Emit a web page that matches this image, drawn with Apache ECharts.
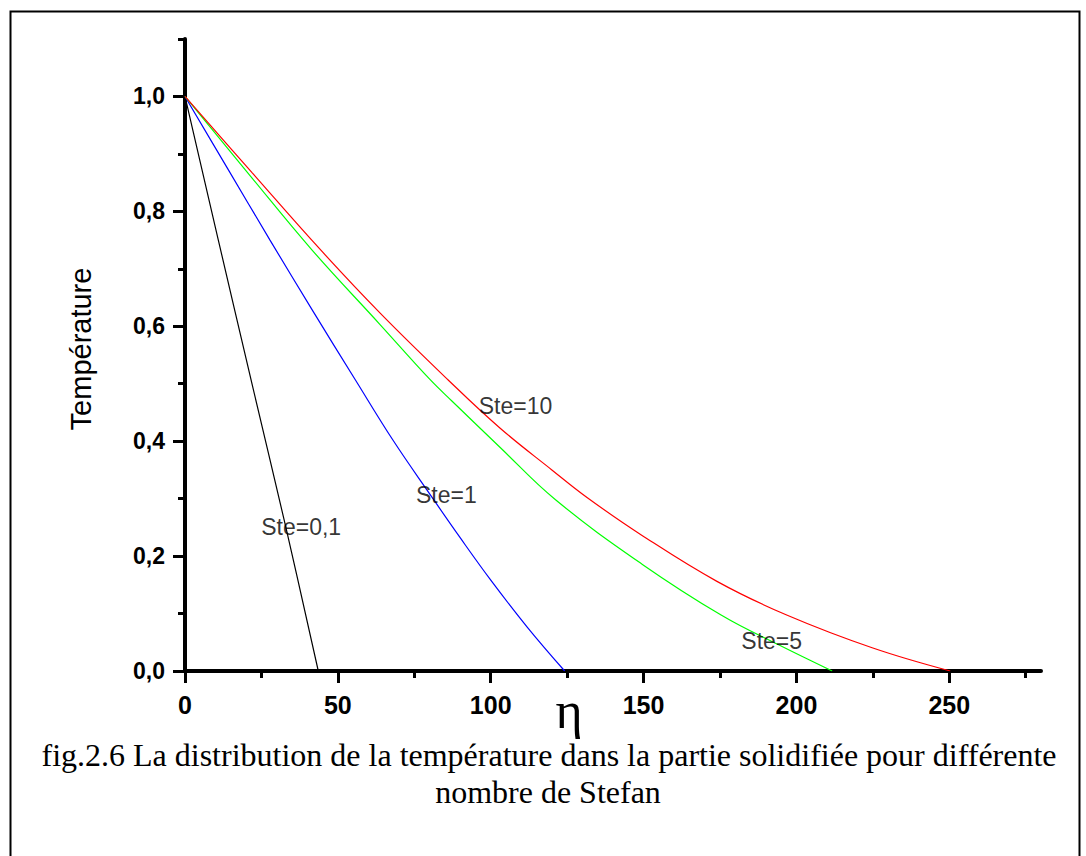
<!DOCTYPE html>
<html lang="fr">
<head>
    <meta charset="UTF-8">
    <title>Distribution de la température</title>
    <script src="https://cdn.jsdelivr.net/npm/echarts@6/dist/echarts.min.js"></script>
    <style>
        html, body { margin: 0; padding: 0; background: #ffffff; }
        #chart { width: 1086px; height: 856px; }
    </style>
</head>
<body>
    <div id="chart"></div>
    <script>
        // Ste = 0,1 (black)
        const ste01X = [0, 10.9, 21.9, 33.0, 43.6];
        const ste01Y = [1, 0.75, 0.50, 0.25, 0];
        // Ste = 1 (blue)
        const ste1X = [0, 14, 27.8, 42, 55.7, 68, 80.2, 90, 99.9, 112, 124.2];
        const ste1Y = [1, 0.874, 0.75, 0.625, 0.507, 0.402, 0.307, 0.232, 0.159, 0.076, 0];
        // Ste = 5 (green)
        const ste5X = [0, 21, 41.5, 63.8, 80.2, 87.3, 103.1, 121.2, 149.5, 175.5, 194, 211.7];
        const ste5Y = [1, 0.864, 0.733, 0.603, 0.507, 0.470, 0.389, 0.298, 0.186, 0.097, 0.046, 0];
        // Ste = 10 (red)
        const ste10X = [0, 22, 44, 64, 86, 103, 120, 131.5, 149.5, 174, 197, 225, 250.3];
        const ste10Y = [1, 0.867, 0.735, 0.622, 0.507, 0.423, 0.350, 0.302, 0.236, 0.156, 0.097, 0.040, 0];

        // curve labels (text, eta, temperature)
        const curveLabels = ['Ste=0,1', 'Ste=1', 'Ste=10', 'Ste=5'];
        const labelX = [38.0, 85.5, 108.1, 191.9];
        const labelY = [0.250, 0.307, 0.462, 0.053];

        const xMajorTicks = [0, 50, 100, 150, 200, 250];
        const xMinorTicks = [25, 75, 125, 175, 225, 275];
        const yMajorTicks = [0, 0.2, 0.4, 0.6, 0.8, 1.0];
        const yMinorTicks = [0.1, 0.3, 0.5, 0.7, 0.9, 1.1];

        const captionLines = [
            'fig.2.6 La distribution de la température dans la partie solidifiée pour différente',
            'nombre de Stefan'
        ];

        const sans = 'Arial, "Liberation Sans", sans-serif';
        const serif = '"Times New Roman", "Liberation Serif", serif';

        function pairs(xs, ys) {
            return xs.map((x, i) => [x, ys[i]]);
        }

        const chart = echarts.init(document.getElementById('chart'), null, { renderer: 'svg' });

        const axisBlack = { color: '#000', width: 4 };
        const curve = (name, xs, ys, color) => ({
            name: name, type: 'line', data: pairs(xs, ys), smooth: 0.4,
            showSymbol: false, lineStyle: { color: color, width: 1.2 }
        });

        chart.setOption({
            animation: false,
            backgroundColor: '#ffffff',
            grid: { left: 185, right: 45, top: 39, bottom: 185 },
            xAxis: [{
                type: 'value', min: 0, max: 280,
                axisLine: { onZero: false, lineStyle: axisBlack },
                axisTick: { customValues: xMajorTicks, length: 12, lineStyle: { color: '#000', width: 3 } },
                axisLabel: {
                    customValues: xMajorTicks, margin: 21,
                    color: '#000', fontFamily: sans, fontWeight: 'bold', fontSize: 25
                },
                splitLine: { show: false }
            }, {
                type: 'value', min: 0, max: 280, position: 'bottom',
                axisLine: { show: false },
                axisTick: { customValues: xMinorTicks, length: 7, lineStyle: { color: '#000', width: 3 } },
                axisLabel: { show: false },
                splitLine: { show: false }
            }],
            yAxis: [{
                type: 'value', min: 0, max: 1.1,
                axisLine: { show: true, onZero: false, lineStyle: axisBlack },
                axisTick: { show: true, customValues: yMajorTicks, length: 12, lineStyle: { color: '#000', width: 3 } },
                axisLabel: {
                    customValues: yMajorTicks, margin: 20,
                    color: '#000', fontFamily: sans, fontWeight: 'bold', fontSize: 23,
                    formatter: v => v.toFixed(1).replace('.', ',')
                },
                splitLine: { show: false }
            }, {
                type: 'value', min: 0, max: 1.1, position: 'left',
                axisLine: { show: false },
                axisTick: { show: true, customValues: yMinorTicks, length: 7, lineStyle: { color: '#000', width: 3 } },
                axisLabel: { show: false },
                splitLine: { show: false }
            }],
            series: [
                curve('Ste=0,1', ste01X, ste01Y, '#000000'),
                curve('Ste=1', ste1X, ste1Y, '#0000ff'),
                curve('Ste=5', ste5X, ste5Y, '#00ff00'),
                curve('Ste=10', ste10X, ste10Y, '#ff0000'),
                {
                    name: 'labels', type: 'scatter', symbolSize: 0, silent: true, z: 5,
                    data: curveLabels.map((t, i) => ({ value: [labelX[i], labelY[i]], name: t })),
                    label: {
                        show: true, position: 'inside', formatter: p => p.name,
                        color: '#000', fontFamily: sans, fontSize: 23
                    }
                }
            ],
            graphic: [
                {
                    type: 'rect', left: 8, top: 9, z: -1, silent: true,
                    shape: { width: 1069, height: 900 },
                    style: { fill: 'none', stroke: '#000', lineWidth: 2 }
                },
                {
                    type: 'text', x: 81, y: 349, rotation: Math.PI / 2, silent: true,
                    style: { text: 'Température', fill: '#000', font: '29px ' + sans,
                             textAlign: 'center', textVerticalAlign: 'middle' }
                },
                {
                    type: 'text', x: 569, y: 710, silent: true,
                    style: { text: 'η', fill: '#000', font: '52px ' + serif,
                             textAlign: 'center', textVerticalAlign: 'middle' }
                },
                {
                    type: 'text', x: 549, y: 755, silent: true,
                    style: { text: captionLines[0], fill: '#000', font: '32px ' + serif,
                             textAlign: 'center', textVerticalAlign: 'middle' }
                },
                {
                    type: 'text', x: 548, y: 792, silent: true,
                    style: { text: captionLines[1], fill: '#000', font: '32px ' + serif,
                             textAlign: 'center', textVerticalAlign: 'middle' }
                }
            ]
        });
    </script>
</body>
</html>
